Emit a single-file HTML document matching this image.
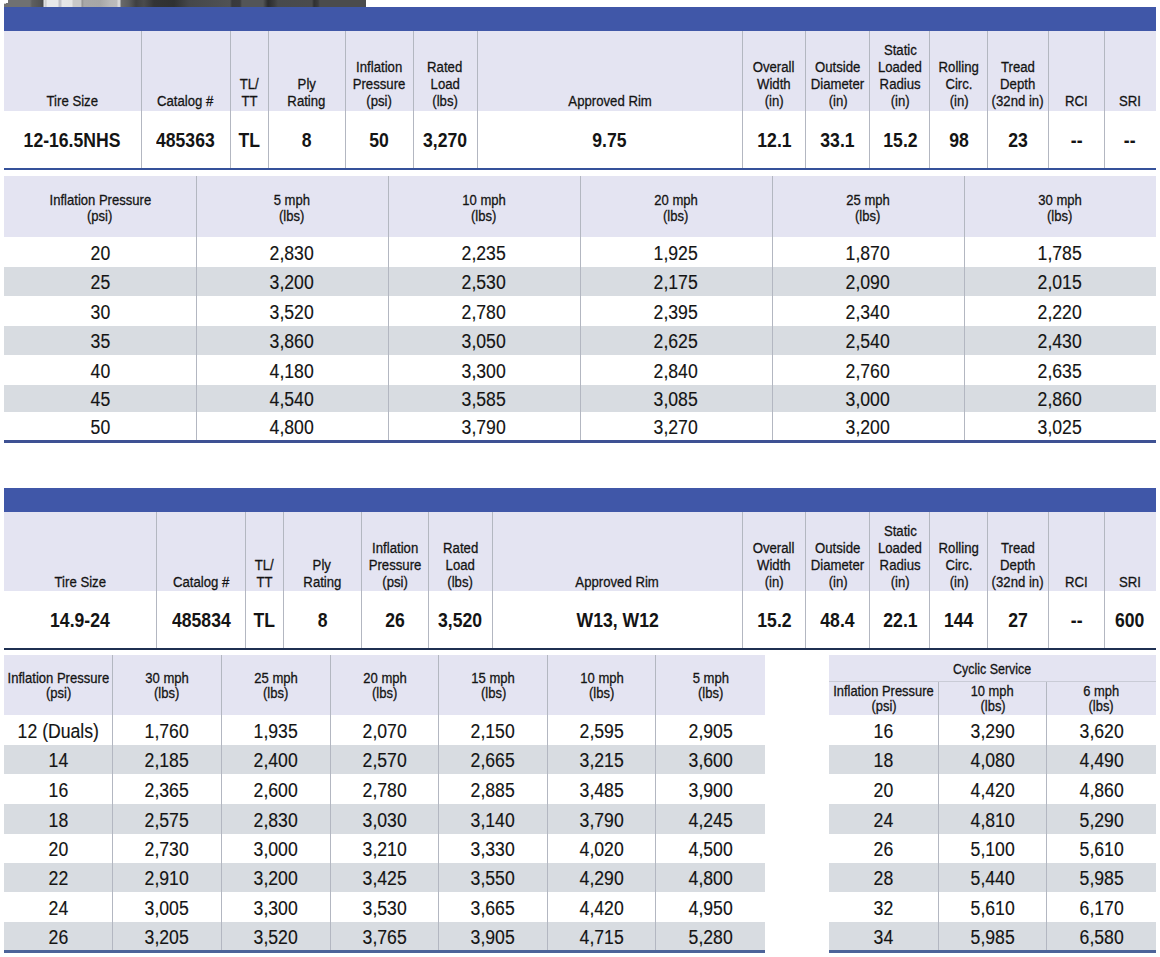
<!DOCTYPE html>
<html><head><meta charset="utf-8"><style>
html,body{margin:0;padding:0;background:#fff;}
body{width:1160px;height:957px;position:relative;overflow:hidden;font-family:"Liberation Sans",sans-serif;}
body>div{position:absolute;}
.t{text-align:center;white-space:nowrap;}
.t span{display:inline-block;}
</style></head><body>
<div style="left:4px;top:0;width:362px;height:7px;background:linear-gradient(90deg,#707172 0px,#707172 26px,#5e5f60 28px,#525354 36px,#48494a 39px,#e4e5e6 40px,#c8c8c8 42px,#e8e9ea 43px,#e8e9ea 54px,#c0c0c6 55px,#c4c4ca 57px,#e6e6e8 58px,#e4e4e4 68px,#c8c8c8 69px,#c8c8c8 77px,#909090 78px,#a8a8a8 80px,#a6a6a6 96px,#b8b8b8 106px,#bcbcbc 113px,#d8d8d8 114px,#d8d8d8 116px,#6a6a6a 117px,#5a5b5c 125px,#3f4041 132px,#4a4b4c 140px,#333435 150px,#2f3132 170px,#45474a 185px,#505254 226px,#38393b 228px,#3a3b3d 236px,#535557 238px,#535557 259px,#2a2b2d 264px,#3a3b3d 270px,#484a4c 274px,#4a4b4c 308px,#2f3031 310px,#3a3b3c 314px,#4b4c4d 316px,#4b4c4d 362px);"></div>
<div style="left:4px;top:0px;width:4px;height:3px;background:#ffffff;"></div>
<div style="left:4px;top:3px;width:2px;height:1px;background:#d0d0d0;"></div>
<div style="left:4px;top:7px;width:1152px;height:24px;background:#4057a8;"></div>
<div style="left:4px;top:31px;width:1152px;height:80px;background:#e4e4f2;"></div>
<div style="left:141px;top:31px;width:1px;height:137px;background:#b3b7c1;"></div>
<div style="left:230px;top:31px;width:1px;height:137px;background:#b3b7c1;"></div>
<div style="left:268px;top:31px;width:1px;height:137px;background:#b3b7c1;"></div>
<div style="left:345px;top:31px;width:1px;height:137px;background:#b3b7c1;"></div>
<div style="left:413px;top:31px;width:1px;height:137px;background:#b3b7c1;"></div>
<div style="left:477px;top:31px;width:1px;height:137px;background:#b3b7c1;"></div>
<div style="left:742px;top:31px;width:1px;height:137px;background:#b3b7c1;"></div>
<div style="left:805px;top:31px;width:1px;height:137px;background:#b3b7c1;"></div>
<div style="left:869px;top:31px;width:1px;height:137px;background:#b3b7c1;"></div>
<div style="left:929px;top:31px;width:1px;height:137px;background:#b3b7c1;"></div>
<div style="left:987px;top:31px;width:1px;height:137px;background:#b3b7c1;"></div>
<div style="left:1048px;top:31px;width:1px;height:137px;background:#b3b7c1;"></div>
<div style="left:1104px;top:31px;width:1px;height:137px;background:#b3b7c1;"></div>
<div style="left:4px;top:168px;width:1152px;height:2px;background:#35519a;"></div>
<div class="t" style="left:-56.00px;top:92.58px;width:257.00px;height:15.5px;line-height:15.5px;font-size:15.5px;color:#141414;"><span style="transform:scaleX(0.85);-webkit-text-stroke:0.3px #141414;">Tire Size</span></div>
<div class="t" style="left:81.00px;top:92.58px;width:209.00px;height:15.5px;line-height:15.5px;font-size:15.5px;color:#141414;"><span style="transform:scaleX(0.85);-webkit-text-stroke:0.3px #141414;">Catalog #</span></div>
<div class="t" style="left:170.00px;top:75.58px;width:158.00px;height:15.5px;line-height:15.5px;font-size:15.5px;color:#141414;"><span style="transform:scaleX(0.85);-webkit-text-stroke:0.3px #141414;">TL/</span></div>
<div class="t" style="left:170.00px;top:92.58px;width:158.00px;height:15.5px;line-height:15.5px;font-size:15.5px;color:#141414;"><span style="transform:scaleX(0.85);-webkit-text-stroke:0.3px #141414;">TT</span></div>
<div class="t" style="left:208.00px;top:75.58px;width:197.50px;height:15.5px;line-height:15.5px;font-size:15.5px;color:#141414;"><span style="transform:scaleX(0.85);-webkit-text-stroke:0.3px #141414;">Ply</span></div>
<div class="t" style="left:208.00px;top:92.58px;width:197.50px;height:15.5px;line-height:15.5px;font-size:15.5px;color:#141414;"><span style="transform:scaleX(0.85);-webkit-text-stroke:0.3px #141414;">Rating</span></div>
<div class="t" style="left:285.50px;top:58.58px;width:187.50px;height:15.5px;line-height:15.5px;font-size:15.5px;color:#141414;"><span style="transform:scaleX(0.85);-webkit-text-stroke:0.3px #141414;">Inflation</span></div>
<div class="t" style="left:285.50px;top:75.58px;width:187.50px;height:15.5px;line-height:15.5px;font-size:15.5px;color:#141414;"><span style="transform:scaleX(0.85);-webkit-text-stroke:0.3px #141414;">Pressure</span></div>
<div class="t" style="left:285.50px;top:92.58px;width:187.50px;height:15.5px;line-height:15.5px;font-size:15.5px;color:#141414;"><span style="transform:scaleX(0.85);-webkit-text-stroke:0.3px #141414;">(psi)</span></div>
<div class="t" style="left:353.00px;top:58.58px;width:184.00px;height:15.5px;line-height:15.5px;font-size:15.5px;color:#141414;"><span style="transform:scaleX(0.85);-webkit-text-stroke:0.3px #141414;">Rated</span></div>
<div class="t" style="left:353.00px;top:75.58px;width:184.00px;height:15.5px;line-height:15.5px;font-size:15.5px;color:#141414;"><span style="transform:scaleX(0.85);-webkit-text-stroke:0.3px #141414;">Load</span></div>
<div class="t" style="left:353.00px;top:92.58px;width:184.00px;height:15.5px;line-height:15.5px;font-size:15.5px;color:#141414;"><span style="transform:scaleX(0.85);-webkit-text-stroke:0.3px #141414;">(lbs)</span></div>
<div class="t" style="left:417.00px;top:92.58px;width:385.50px;height:15.5px;line-height:15.5px;font-size:15.5px;color:#141414;"><span style="transform:scaleX(0.85);-webkit-text-stroke:0.3px #141414;">Approved Rim</span></div>
<div class="t" style="left:682.50px;top:58.58px;width:183.00px;height:15.5px;line-height:15.5px;font-size:15.5px;color:#141414;"><span style="transform:scaleX(0.85);-webkit-text-stroke:0.3px #141414;">Overall</span></div>
<div class="t" style="left:682.50px;top:75.58px;width:183.00px;height:15.5px;line-height:15.5px;font-size:15.5px;color:#141414;"><span style="transform:scaleX(0.85);-webkit-text-stroke:0.3px #141414;">Width</span></div>
<div class="t" style="left:682.50px;top:92.58px;width:183.00px;height:15.5px;line-height:15.5px;font-size:15.5px;color:#141414;"><span style="transform:scaleX(0.85);-webkit-text-stroke:0.3px #141414;">(in)</span></div>
<div class="t" style="left:745.50px;top:58.58px;width:184.50px;height:15.5px;line-height:15.5px;font-size:15.5px;color:#141414;"><span style="transform:scaleX(0.85);-webkit-text-stroke:0.3px #141414;">Outside</span></div>
<div class="t" style="left:745.50px;top:75.58px;width:184.50px;height:15.5px;line-height:15.5px;font-size:15.5px;color:#141414;"><span style="transform:scaleX(0.85);-webkit-text-stroke:0.3px #141414;">Diameter</span></div>
<div class="t" style="left:745.50px;top:92.58px;width:184.50px;height:15.5px;line-height:15.5px;font-size:15.5px;color:#141414;"><span style="transform:scaleX(0.85);-webkit-text-stroke:0.3px #141414;">(in)</span></div>
<div class="t" style="left:810.00px;top:41.58px;width:180.00px;height:15.5px;line-height:15.5px;font-size:15.5px;color:#141414;"><span style="transform:scaleX(0.85);-webkit-text-stroke:0.3px #141414;">Static</span></div>
<div class="t" style="left:810.00px;top:58.58px;width:180.00px;height:15.5px;line-height:15.5px;font-size:15.5px;color:#141414;"><span style="transform:scaleX(0.85);-webkit-text-stroke:0.3px #141414;">Loaded</span></div>
<div class="t" style="left:810.00px;top:75.58px;width:180.00px;height:15.5px;line-height:15.5px;font-size:15.5px;color:#141414;"><span style="transform:scaleX(0.85);-webkit-text-stroke:0.3px #141414;">Radius</span></div>
<div class="t" style="left:810.00px;top:92.58px;width:180.00px;height:15.5px;line-height:15.5px;font-size:15.5px;color:#141414;"><span style="transform:scaleX(0.85);-webkit-text-stroke:0.3px #141414;">(in)</span></div>
<div class="t" style="left:870.00px;top:58.58px;width:177.50px;height:15.5px;line-height:15.5px;font-size:15.5px;color:#141414;"><span style="transform:scaleX(0.85);-webkit-text-stroke:0.3px #141414;">Rolling</span></div>
<div class="t" style="left:870.00px;top:75.58px;width:177.50px;height:15.5px;line-height:15.5px;font-size:15.5px;color:#141414;"><span style="transform:scaleX(0.85);-webkit-text-stroke:0.3px #141414;">Circ.</span></div>
<div class="t" style="left:870.00px;top:92.58px;width:177.50px;height:15.5px;line-height:15.5px;font-size:15.5px;color:#141414;"><span style="transform:scaleX(0.85);-webkit-text-stroke:0.3px #141414;">(in)</span></div>
<div class="t" style="left:927.50px;top:58.58px;width:181.00px;height:15.5px;line-height:15.5px;font-size:15.5px;color:#141414;"><span style="transform:scaleX(0.85);-webkit-text-stroke:0.3px #141414;">Tread</span></div>
<div class="t" style="left:927.50px;top:75.58px;width:181.00px;height:15.5px;line-height:15.5px;font-size:15.5px;color:#141414;"><span style="transform:scaleX(0.85);-webkit-text-stroke:0.3px #141414;">Depth</span></div>
<div class="t" style="left:927.50px;top:92.58px;width:181.00px;height:15.5px;line-height:15.5px;font-size:15.5px;color:#141414;"><span style="transform:scaleX(0.85);-webkit-text-stroke:0.3px #141414;">(32nd in)</span></div>
<div class="t" style="left:988.50px;top:92.58px;width:176.00px;height:15.5px;line-height:15.5px;font-size:15.5px;color:#141414;"><span style="transform:scaleX(0.85);-webkit-text-stroke:0.3px #141414;">RCI</span></div>
<div class="t" style="left:1044.50px;top:92.58px;width:171.00px;height:15.5px;line-height:15.5px;font-size:15.5px;color:#141414;"><span style="transform:scaleX(0.85);-webkit-text-stroke:0.3px #141414;">SRI</span></div>
<div class="t" style="left:-56.00px;top:129.67px;width:257.00px;height:20px;line-height:20px;font-size:20px;font-weight:700;color:#141414;"><span style="transform:scaleX(0.88);">12-16.5NHS</span></div>
<div class="t" style="left:81.00px;top:129.67px;width:209.00px;height:20px;line-height:20px;font-size:20px;font-weight:700;color:#141414;"><span style="transform:scaleX(0.88);">485363</span></div>
<div class="t" style="left:170.00px;top:129.67px;width:158.00px;height:20px;line-height:20px;font-size:20px;font-weight:700;color:#141414;"><span style="transform:scaleX(0.88);">TL</span></div>
<div class="t" style="left:208.00px;top:129.67px;width:197.50px;height:20px;line-height:20px;font-size:20px;font-weight:700;color:#141414;"><span style="transform:scaleX(0.88);">8</span></div>
<div class="t" style="left:285.50px;top:129.67px;width:187.50px;height:20px;line-height:20px;font-size:20px;font-weight:700;color:#141414;"><span style="transform:scaleX(0.88);">50</span></div>
<div class="t" style="left:353.00px;top:129.67px;width:184.00px;height:20px;line-height:20px;font-size:20px;font-weight:700;color:#141414;"><span style="transform:scaleX(0.88);">3,270</span></div>
<div class="t" style="left:417.00px;top:129.67px;width:385.50px;height:20px;line-height:20px;font-size:20px;font-weight:700;color:#141414;"><span style="transform:scaleX(0.88);">9.75</span></div>
<div class="t" style="left:682.50px;top:129.67px;width:183.00px;height:20px;line-height:20px;font-size:20px;font-weight:700;color:#141414;"><span style="transform:scaleX(0.88);">12.1</span></div>
<div class="t" style="left:745.50px;top:129.67px;width:184.50px;height:20px;line-height:20px;font-size:20px;font-weight:700;color:#141414;"><span style="transform:scaleX(0.88);">33.1</span></div>
<div class="t" style="left:810.00px;top:129.67px;width:180.00px;height:20px;line-height:20px;font-size:20px;font-weight:700;color:#141414;"><span style="transform:scaleX(0.88);">15.2</span></div>
<div class="t" style="left:870.00px;top:129.67px;width:177.50px;height:20px;line-height:20px;font-size:20px;font-weight:700;color:#141414;"><span style="transform:scaleX(0.88);">98</span></div>
<div class="t" style="left:927.50px;top:129.67px;width:181.00px;height:20px;line-height:20px;font-size:20px;font-weight:700;color:#141414;"><span style="transform:scaleX(0.88);">23</span></div>
<div class="t" style="left:988.50px;top:129.67px;width:176.00px;height:20px;line-height:20px;font-size:20px;font-weight:700;color:#141414;"><span style="transform:scaleX(0.88);">--</span></div>
<div class="t" style="left:1044.50px;top:129.67px;width:171.00px;height:20px;line-height:20px;font-size:20px;font-weight:700;color:#141414;"><span style="transform:scaleX(0.88);">--</span></div>
<div style="left:4px;top:488px;width:1152px;height:24px;background:#4057a8;"></div>
<div style="left:4px;top:512px;width:1152px;height:79px;background:#e4e4f2;"></div>
<div style="left:156px;top:512px;width:1px;height:136px;background:#b3b7c1;"></div>
<div style="left:245px;top:512px;width:1px;height:136px;background:#b3b7c1;"></div>
<div style="left:283px;top:512px;width:1px;height:136px;background:#b3b7c1;"></div>
<div style="left:361px;top:512px;width:1px;height:136px;background:#b3b7c1;"></div>
<div style="left:428px;top:512px;width:1px;height:136px;background:#b3b7c1;"></div>
<div style="left:492px;top:512px;width:1px;height:136px;background:#b3b7c1;"></div>
<div style="left:742px;top:512px;width:1px;height:136px;background:#b3b7c1;"></div>
<div style="left:805px;top:512px;width:1px;height:136px;background:#b3b7c1;"></div>
<div style="left:869px;top:512px;width:1px;height:136px;background:#b3b7c1;"></div>
<div style="left:929px;top:512px;width:1px;height:136px;background:#b3b7c1;"></div>
<div style="left:987px;top:512px;width:1px;height:136px;background:#b3b7c1;"></div>
<div style="left:1048px;top:512px;width:1px;height:136px;background:#b3b7c1;"></div>
<div style="left:1104px;top:512px;width:1px;height:136px;background:#b3b7c1;"></div>
<div style="left:4px;top:648px;width:1152px;height:2px;background:#1f3052;"></div>
<div class="t" style="left:-56.00px;top:574.28px;width:272.25px;height:15.5px;line-height:15.5px;font-size:15.5px;color:#141414;"><span style="transform:scaleX(0.85);-webkit-text-stroke:0.3px #141414;">Tire Size</span></div>
<div class="t" style="left:96.25px;top:574.28px;width:209.25px;height:15.5px;line-height:15.5px;font-size:15.5px;color:#141414;"><span style="transform:scaleX(0.85);-webkit-text-stroke:0.3px #141414;">Catalog #</span></div>
<div class="t" style="left:185.50px;top:557.28px;width:157.75px;height:15.5px;line-height:15.5px;font-size:15.5px;color:#141414;"><span style="transform:scaleX(0.85);-webkit-text-stroke:0.3px #141414;">TL/</span></div>
<div class="t" style="left:185.50px;top:574.28px;width:157.75px;height:15.5px;line-height:15.5px;font-size:15.5px;color:#141414;"><span style="transform:scaleX(0.85);-webkit-text-stroke:0.3px #141414;">TT</span></div>
<div class="t" style="left:223.25px;top:557.28px;width:198.00px;height:15.5px;line-height:15.5px;font-size:15.5px;color:#141414;"><span style="transform:scaleX(0.85);-webkit-text-stroke:0.3px #141414;">Ply</span></div>
<div class="t" style="left:223.25px;top:574.28px;width:198.00px;height:15.5px;line-height:15.5px;font-size:15.5px;color:#141414;"><span style="transform:scaleX(0.85);-webkit-text-stroke:0.3px #141414;">Rating</span></div>
<div class="t" style="left:301.25px;top:540.28px;width:187.00px;height:15.5px;line-height:15.5px;font-size:15.5px;color:#141414;"><span style="transform:scaleX(0.85);-webkit-text-stroke:0.3px #141414;">Inflation</span></div>
<div class="t" style="left:301.25px;top:557.28px;width:187.00px;height:15.5px;line-height:15.5px;font-size:15.5px;color:#141414;"><span style="transform:scaleX(0.85);-webkit-text-stroke:0.3px #141414;">Pressure</span></div>
<div class="t" style="left:301.25px;top:574.28px;width:187.00px;height:15.5px;line-height:15.5px;font-size:15.5px;color:#141414;"><span style="transform:scaleX(0.85);-webkit-text-stroke:0.3px #141414;">(psi)</span></div>
<div class="t" style="left:368.25px;top:540.28px;width:184.25px;height:15.5px;line-height:15.5px;font-size:15.5px;color:#141414;"><span style="transform:scaleX(0.85);-webkit-text-stroke:0.3px #141414;">Rated</span></div>
<div class="t" style="left:368.25px;top:557.28px;width:184.25px;height:15.5px;line-height:15.5px;font-size:15.5px;color:#141414;"><span style="transform:scaleX(0.85);-webkit-text-stroke:0.3px #141414;">Load</span></div>
<div class="t" style="left:368.25px;top:574.28px;width:184.25px;height:15.5px;line-height:15.5px;font-size:15.5px;color:#141414;"><span style="transform:scaleX(0.85);-webkit-text-stroke:0.3px #141414;">(lbs)</span></div>
<div class="t" style="left:432.50px;top:574.28px;width:370.00px;height:15.5px;line-height:15.5px;font-size:15.5px;color:#141414;"><span style="transform:scaleX(0.85);-webkit-text-stroke:0.3px #141414;">Approved Rim</span></div>
<div class="t" style="left:682.50px;top:540.28px;width:183.00px;height:15.5px;line-height:15.5px;font-size:15.5px;color:#141414;"><span style="transform:scaleX(0.85);-webkit-text-stroke:0.3px #141414;">Overall</span></div>
<div class="t" style="left:682.50px;top:557.28px;width:183.00px;height:15.5px;line-height:15.5px;font-size:15.5px;color:#141414;"><span style="transform:scaleX(0.85);-webkit-text-stroke:0.3px #141414;">Width</span></div>
<div class="t" style="left:682.50px;top:574.28px;width:183.00px;height:15.5px;line-height:15.5px;font-size:15.5px;color:#141414;"><span style="transform:scaleX(0.85);-webkit-text-stroke:0.3px #141414;">(in)</span></div>
<div class="t" style="left:745.50px;top:540.28px;width:184.50px;height:15.5px;line-height:15.5px;font-size:15.5px;color:#141414;"><span style="transform:scaleX(0.85);-webkit-text-stroke:0.3px #141414;">Outside</span></div>
<div class="t" style="left:745.50px;top:557.28px;width:184.50px;height:15.5px;line-height:15.5px;font-size:15.5px;color:#141414;"><span style="transform:scaleX(0.85);-webkit-text-stroke:0.3px #141414;">Diameter</span></div>
<div class="t" style="left:745.50px;top:574.28px;width:184.50px;height:15.5px;line-height:15.5px;font-size:15.5px;color:#141414;"><span style="transform:scaleX(0.85);-webkit-text-stroke:0.3px #141414;">(in)</span></div>
<div class="t" style="left:810.00px;top:523.28px;width:180.00px;height:15.5px;line-height:15.5px;font-size:15.5px;color:#141414;"><span style="transform:scaleX(0.85);-webkit-text-stroke:0.3px #141414;">Static</span></div>
<div class="t" style="left:810.00px;top:540.28px;width:180.00px;height:15.5px;line-height:15.5px;font-size:15.5px;color:#141414;"><span style="transform:scaleX(0.85);-webkit-text-stroke:0.3px #141414;">Loaded</span></div>
<div class="t" style="left:810.00px;top:557.28px;width:180.00px;height:15.5px;line-height:15.5px;font-size:15.5px;color:#141414;"><span style="transform:scaleX(0.85);-webkit-text-stroke:0.3px #141414;">Radius</span></div>
<div class="t" style="left:810.00px;top:574.28px;width:180.00px;height:15.5px;line-height:15.5px;font-size:15.5px;color:#141414;"><span style="transform:scaleX(0.85);-webkit-text-stroke:0.3px #141414;">(in)</span></div>
<div class="t" style="left:870.00px;top:540.28px;width:177.50px;height:15.5px;line-height:15.5px;font-size:15.5px;color:#141414;"><span style="transform:scaleX(0.85);-webkit-text-stroke:0.3px #141414;">Rolling</span></div>
<div class="t" style="left:870.00px;top:557.28px;width:177.50px;height:15.5px;line-height:15.5px;font-size:15.5px;color:#141414;"><span style="transform:scaleX(0.85);-webkit-text-stroke:0.3px #141414;">Circ.</span></div>
<div class="t" style="left:870.00px;top:574.28px;width:177.50px;height:15.5px;line-height:15.5px;font-size:15.5px;color:#141414;"><span style="transform:scaleX(0.85);-webkit-text-stroke:0.3px #141414;">(in)</span></div>
<div class="t" style="left:927.50px;top:540.28px;width:181.00px;height:15.5px;line-height:15.5px;font-size:15.5px;color:#141414;"><span style="transform:scaleX(0.85);-webkit-text-stroke:0.3px #141414;">Tread</span></div>
<div class="t" style="left:927.50px;top:557.28px;width:181.00px;height:15.5px;line-height:15.5px;font-size:15.5px;color:#141414;"><span style="transform:scaleX(0.85);-webkit-text-stroke:0.3px #141414;">Depth</span></div>
<div class="t" style="left:927.50px;top:574.28px;width:181.00px;height:15.5px;line-height:15.5px;font-size:15.5px;color:#141414;"><span style="transform:scaleX(0.85);-webkit-text-stroke:0.3px #141414;">(32nd in)</span></div>
<div class="t" style="left:988.50px;top:574.28px;width:176.00px;height:15.5px;line-height:15.5px;font-size:15.5px;color:#141414;"><span style="transform:scaleX(0.85);-webkit-text-stroke:0.3px #141414;">RCI</span></div>
<div class="t" style="left:1044.50px;top:574.28px;width:171.00px;height:15.5px;line-height:15.5px;font-size:15.5px;color:#141414;"><span style="transform:scaleX(0.85);-webkit-text-stroke:0.3px #141414;">SRI</span></div>
<div class="t" style="left:-56.00px;top:610.27px;width:272.25px;height:20px;line-height:20px;font-size:20px;font-weight:700;color:#141414;"><span style="transform:scaleX(0.88);">14.9-24</span></div>
<div class="t" style="left:96.25px;top:610.27px;width:209.25px;height:20px;line-height:20px;font-size:20px;font-weight:700;color:#141414;"><span style="transform:scaleX(0.88);">485834</span></div>
<div class="t" style="left:185.50px;top:610.27px;width:157.75px;height:20px;line-height:20px;font-size:20px;font-weight:700;color:#141414;"><span style="transform:scaleX(0.88);">TL</span></div>
<div class="t" style="left:223.25px;top:610.27px;width:198.00px;height:20px;line-height:20px;font-size:20px;font-weight:700;color:#141414;"><span style="transform:scaleX(0.88);">8</span></div>
<div class="t" style="left:301.25px;top:610.27px;width:187.00px;height:20px;line-height:20px;font-size:20px;font-weight:700;color:#141414;"><span style="transform:scaleX(0.88);">26</span></div>
<div class="t" style="left:368.25px;top:610.27px;width:184.25px;height:20px;line-height:20px;font-size:20px;font-weight:700;color:#141414;"><span style="transform:scaleX(0.88);">3,520</span></div>
<div class="t" style="left:432.50px;top:610.27px;width:370.00px;height:20px;line-height:20px;font-size:20px;font-weight:700;color:#141414;"><span style="transform:scaleX(0.88);">W13, W12</span></div>
<div class="t" style="left:682.50px;top:610.27px;width:183.00px;height:20px;line-height:20px;font-size:20px;font-weight:700;color:#141414;"><span style="transform:scaleX(0.88);">15.2</span></div>
<div class="t" style="left:745.50px;top:610.27px;width:184.50px;height:20px;line-height:20px;font-size:20px;font-weight:700;color:#141414;"><span style="transform:scaleX(0.88);">48.4</span></div>
<div class="t" style="left:810.00px;top:610.27px;width:180.00px;height:20px;line-height:20px;font-size:20px;font-weight:700;color:#141414;"><span style="transform:scaleX(0.88);">22.1</span></div>
<div class="t" style="left:870.00px;top:610.27px;width:177.50px;height:20px;line-height:20px;font-size:20px;font-weight:700;color:#141414;"><span style="transform:scaleX(0.88);">144</span></div>
<div class="t" style="left:927.50px;top:610.27px;width:181.00px;height:20px;line-height:20px;font-size:20px;font-weight:700;color:#141414;"><span style="transform:scaleX(0.88);">27</span></div>
<div class="t" style="left:988.50px;top:610.27px;width:176.00px;height:20px;line-height:20px;font-size:20px;font-weight:700;color:#141414;"><span style="transform:scaleX(0.88);">--</span></div>
<div class="t" style="left:1044.50px;top:610.27px;width:171.00px;height:20px;line-height:20px;font-size:20px;font-weight:700;color:#141414;"><span style="transform:scaleX(0.88);">600</span></div>
<div style="left:4px;top:176px;width:1152px;height:61px;background:#e4e4f2;"></div>
<div style="left:4px;top:267px;width:1152px;height:29px;background:#d8dce1;"></div>
<div style="left:4px;top:326px;width:1152px;height:29px;background:#d8dce1;"></div>
<div style="left:4px;top:385px;width:1152px;height:27px;background:#d8dce1;"></div>
<div style="left:196px;top:176px;width:1px;height:264px;background:#b3b7c1;"></div>
<div style="left:388px;top:176px;width:1px;height:264px;background:#b3b7c1;"></div>
<div style="left:580px;top:176px;width:1px;height:264px;background:#b3b7c1;"></div>
<div style="left:772px;top:176px;width:1px;height:264px;background:#b3b7c1;"></div>
<div style="left:964px;top:176px;width:1px;height:264px;background:#b3b7c1;"></div>
<div style="left:4px;top:440px;width:1152px;height:3px;background:#3e5193;"></div>
<div class="t" style="left:-56.00px;top:192.00px;width:312.00px;height:15px;line-height:15px;font-size:15px;color:#141414;"><span style="transform:scaleX(0.87);-webkit-text-stroke:0.3px #141414;">Inflation Pressure</span></div>
<div class="t" style="left:-56.00px;top:207.60px;width:312.00px;height:15px;line-height:15px;font-size:15px;color:#141414;"><span style="transform:scaleX(0.87);-webkit-text-stroke:0.3px #141414;">(psi)</span></div>
<div class="t" style="left:136.00px;top:192.00px;width:312.00px;height:15px;line-height:15px;font-size:15px;color:#141414;"><span style="transform:scaleX(0.87);-webkit-text-stroke:0.3px #141414;">5 mph</span></div>
<div class="t" style="left:136.00px;top:207.60px;width:312.00px;height:15px;line-height:15px;font-size:15px;color:#141414;"><span style="transform:scaleX(0.87);-webkit-text-stroke:0.3px #141414;">(lbs)</span></div>
<div class="t" style="left:328.00px;top:192.00px;width:312.00px;height:15px;line-height:15px;font-size:15px;color:#141414;"><span style="transform:scaleX(0.87);-webkit-text-stroke:0.3px #141414;">10 mph</span></div>
<div class="t" style="left:328.00px;top:207.60px;width:312.00px;height:15px;line-height:15px;font-size:15px;color:#141414;"><span style="transform:scaleX(0.87);-webkit-text-stroke:0.3px #141414;">(lbs)</span></div>
<div class="t" style="left:520.00px;top:192.00px;width:312.00px;height:15px;line-height:15px;font-size:15px;color:#141414;"><span style="transform:scaleX(0.87);-webkit-text-stroke:0.3px #141414;">20 mph</span></div>
<div class="t" style="left:520.00px;top:207.60px;width:312.00px;height:15px;line-height:15px;font-size:15px;color:#141414;"><span style="transform:scaleX(0.87);-webkit-text-stroke:0.3px #141414;">(lbs)</span></div>
<div class="t" style="left:712.00px;top:192.00px;width:312.00px;height:15px;line-height:15px;font-size:15px;color:#141414;"><span style="transform:scaleX(0.87);-webkit-text-stroke:0.3px #141414;">25 mph</span></div>
<div class="t" style="left:712.00px;top:207.60px;width:312.00px;height:15px;line-height:15px;font-size:15px;color:#141414;"><span style="transform:scaleX(0.87);-webkit-text-stroke:0.3px #141414;">(lbs)</span></div>
<div class="t" style="left:904.00px;top:192.00px;width:312.00px;height:15px;line-height:15px;font-size:15px;color:#141414;"><span style="transform:scaleX(0.87);-webkit-text-stroke:0.3px #141414;">30 mph</span></div>
<div class="t" style="left:904.00px;top:207.60px;width:312.00px;height:15px;line-height:15px;font-size:15px;color:#141414;"><span style="transform:scaleX(0.87);-webkit-text-stroke:0.3px #141414;">(lbs)</span></div>
<div class="t" style="left:-56.00px;top:242.95px;width:312.00px;height:20.5px;line-height:20.5px;font-size:20.5px;color:#141414;"><span style="transform:scaleX(0.86);-webkit-text-stroke:0.15px #141414;">20</span></div>
<div class="t" style="left:136.00px;top:242.95px;width:312.00px;height:20.5px;line-height:20.5px;font-size:20.5px;color:#141414;"><span style="transform:scaleX(0.86);-webkit-text-stroke:0.15px #141414;">2,830</span></div>
<div class="t" style="left:328.00px;top:242.95px;width:312.00px;height:20.5px;line-height:20.5px;font-size:20.5px;color:#141414;"><span style="transform:scaleX(0.86);-webkit-text-stroke:0.15px #141414;">2,235</span></div>
<div class="t" style="left:520.00px;top:242.95px;width:312.00px;height:20.5px;line-height:20.5px;font-size:20.5px;color:#141414;"><span style="transform:scaleX(0.86);-webkit-text-stroke:0.15px #141414;">1,925</span></div>
<div class="t" style="left:712.00px;top:242.95px;width:312.00px;height:20.5px;line-height:20.5px;font-size:20.5px;color:#141414;"><span style="transform:scaleX(0.86);-webkit-text-stroke:0.15px #141414;">1,870</span></div>
<div class="t" style="left:904.00px;top:242.95px;width:312.00px;height:20.5px;line-height:20.5px;font-size:20.5px;color:#141414;"><span style="transform:scaleX(0.86);-webkit-text-stroke:0.15px #141414;">1,785</span></div>
<div class="t" style="left:-56.00px;top:272.45px;width:312.00px;height:20.5px;line-height:20.5px;font-size:20.5px;color:#141414;"><span style="transform:scaleX(0.86);-webkit-text-stroke:0.15px #141414;">25</span></div>
<div class="t" style="left:136.00px;top:272.45px;width:312.00px;height:20.5px;line-height:20.5px;font-size:20.5px;color:#141414;"><span style="transform:scaleX(0.86);-webkit-text-stroke:0.15px #141414;">3,200</span></div>
<div class="t" style="left:328.00px;top:272.45px;width:312.00px;height:20.5px;line-height:20.5px;font-size:20.5px;color:#141414;"><span style="transform:scaleX(0.86);-webkit-text-stroke:0.15px #141414;">2,530</span></div>
<div class="t" style="left:520.00px;top:272.45px;width:312.00px;height:20.5px;line-height:20.5px;font-size:20.5px;color:#141414;"><span style="transform:scaleX(0.86);-webkit-text-stroke:0.15px #141414;">2,175</span></div>
<div class="t" style="left:712.00px;top:272.45px;width:312.00px;height:20.5px;line-height:20.5px;font-size:20.5px;color:#141414;"><span style="transform:scaleX(0.86);-webkit-text-stroke:0.15px #141414;">2,090</span></div>
<div class="t" style="left:904.00px;top:272.45px;width:312.00px;height:20.5px;line-height:20.5px;font-size:20.5px;color:#141414;"><span style="transform:scaleX(0.86);-webkit-text-stroke:0.15px #141414;">2,015</span></div>
<div class="t" style="left:-56.00px;top:301.95px;width:312.00px;height:20.5px;line-height:20.5px;font-size:20.5px;color:#141414;"><span style="transform:scaleX(0.86);-webkit-text-stroke:0.15px #141414;">30</span></div>
<div class="t" style="left:136.00px;top:301.95px;width:312.00px;height:20.5px;line-height:20.5px;font-size:20.5px;color:#141414;"><span style="transform:scaleX(0.86);-webkit-text-stroke:0.15px #141414;">3,520</span></div>
<div class="t" style="left:328.00px;top:301.95px;width:312.00px;height:20.5px;line-height:20.5px;font-size:20.5px;color:#141414;"><span style="transform:scaleX(0.86);-webkit-text-stroke:0.15px #141414;">2,780</span></div>
<div class="t" style="left:520.00px;top:301.95px;width:312.00px;height:20.5px;line-height:20.5px;font-size:20.5px;color:#141414;"><span style="transform:scaleX(0.86);-webkit-text-stroke:0.15px #141414;">2,395</span></div>
<div class="t" style="left:712.00px;top:301.95px;width:312.00px;height:20.5px;line-height:20.5px;font-size:20.5px;color:#141414;"><span style="transform:scaleX(0.86);-webkit-text-stroke:0.15px #141414;">2,340</span></div>
<div class="t" style="left:904.00px;top:301.95px;width:312.00px;height:20.5px;line-height:20.5px;font-size:20.5px;color:#141414;"><span style="transform:scaleX(0.86);-webkit-text-stroke:0.15px #141414;">2,220</span></div>
<div class="t" style="left:-56.00px;top:331.45px;width:312.00px;height:20.5px;line-height:20.5px;font-size:20.5px;color:#141414;"><span style="transform:scaleX(0.86);-webkit-text-stroke:0.15px #141414;">35</span></div>
<div class="t" style="left:136.00px;top:331.45px;width:312.00px;height:20.5px;line-height:20.5px;font-size:20.5px;color:#141414;"><span style="transform:scaleX(0.86);-webkit-text-stroke:0.15px #141414;">3,860</span></div>
<div class="t" style="left:328.00px;top:331.45px;width:312.00px;height:20.5px;line-height:20.5px;font-size:20.5px;color:#141414;"><span style="transform:scaleX(0.86);-webkit-text-stroke:0.15px #141414;">3,050</span></div>
<div class="t" style="left:520.00px;top:331.45px;width:312.00px;height:20.5px;line-height:20.5px;font-size:20.5px;color:#141414;"><span style="transform:scaleX(0.86);-webkit-text-stroke:0.15px #141414;">2,625</span></div>
<div class="t" style="left:712.00px;top:331.45px;width:312.00px;height:20.5px;line-height:20.5px;font-size:20.5px;color:#141414;"><span style="transform:scaleX(0.86);-webkit-text-stroke:0.15px #141414;">2,540</span></div>
<div class="t" style="left:904.00px;top:331.45px;width:312.00px;height:20.5px;line-height:20.5px;font-size:20.5px;color:#141414;"><span style="transform:scaleX(0.86);-webkit-text-stroke:0.15px #141414;">2,430</span></div>
<div class="t" style="left:-56.00px;top:360.95px;width:312.00px;height:20.5px;line-height:20.5px;font-size:20.5px;color:#141414;"><span style="transform:scaleX(0.86);-webkit-text-stroke:0.15px #141414;">40</span></div>
<div class="t" style="left:136.00px;top:360.95px;width:312.00px;height:20.5px;line-height:20.5px;font-size:20.5px;color:#141414;"><span style="transform:scaleX(0.86);-webkit-text-stroke:0.15px #141414;">4,180</span></div>
<div class="t" style="left:328.00px;top:360.95px;width:312.00px;height:20.5px;line-height:20.5px;font-size:20.5px;color:#141414;"><span style="transform:scaleX(0.86);-webkit-text-stroke:0.15px #141414;">3,300</span></div>
<div class="t" style="left:520.00px;top:360.95px;width:312.00px;height:20.5px;line-height:20.5px;font-size:20.5px;color:#141414;"><span style="transform:scaleX(0.86);-webkit-text-stroke:0.15px #141414;">2,840</span></div>
<div class="t" style="left:712.00px;top:360.95px;width:312.00px;height:20.5px;line-height:20.5px;font-size:20.5px;color:#141414;"><span style="transform:scaleX(0.86);-webkit-text-stroke:0.15px #141414;">2,760</span></div>
<div class="t" style="left:904.00px;top:360.95px;width:312.00px;height:20.5px;line-height:20.5px;font-size:20.5px;color:#141414;"><span style="transform:scaleX(0.86);-webkit-text-stroke:0.15px #141414;">2,635</span></div>
<div class="t" style="left:-56.00px;top:389.45px;width:312.00px;height:20.5px;line-height:20.5px;font-size:20.5px;color:#141414;"><span style="transform:scaleX(0.86);-webkit-text-stroke:0.15px #141414;">45</span></div>
<div class="t" style="left:136.00px;top:389.45px;width:312.00px;height:20.5px;line-height:20.5px;font-size:20.5px;color:#141414;"><span style="transform:scaleX(0.86);-webkit-text-stroke:0.15px #141414;">4,540</span></div>
<div class="t" style="left:328.00px;top:389.45px;width:312.00px;height:20.5px;line-height:20.5px;font-size:20.5px;color:#141414;"><span style="transform:scaleX(0.86);-webkit-text-stroke:0.15px #141414;">3,585</span></div>
<div class="t" style="left:520.00px;top:389.45px;width:312.00px;height:20.5px;line-height:20.5px;font-size:20.5px;color:#141414;"><span style="transform:scaleX(0.86);-webkit-text-stroke:0.15px #141414;">3,085</span></div>
<div class="t" style="left:712.00px;top:389.45px;width:312.00px;height:20.5px;line-height:20.5px;font-size:20.5px;color:#141414;"><span style="transform:scaleX(0.86);-webkit-text-stroke:0.15px #141414;">3,000</span></div>
<div class="t" style="left:904.00px;top:389.45px;width:312.00px;height:20.5px;line-height:20.5px;font-size:20.5px;color:#141414;"><span style="transform:scaleX(0.86);-webkit-text-stroke:0.15px #141414;">2,860</span></div>
<div class="t" style="left:-56.00px;top:416.95px;width:312.00px;height:20.5px;line-height:20.5px;font-size:20.5px;color:#141414;"><span style="transform:scaleX(0.86);-webkit-text-stroke:0.15px #141414;">50</span></div>
<div class="t" style="left:136.00px;top:416.95px;width:312.00px;height:20.5px;line-height:20.5px;font-size:20.5px;color:#141414;"><span style="transform:scaleX(0.86);-webkit-text-stroke:0.15px #141414;">4,800</span></div>
<div class="t" style="left:328.00px;top:416.95px;width:312.00px;height:20.5px;line-height:20.5px;font-size:20.5px;color:#141414;"><span style="transform:scaleX(0.86);-webkit-text-stroke:0.15px #141414;">3,790</span></div>
<div class="t" style="left:520.00px;top:416.95px;width:312.00px;height:20.5px;line-height:20.5px;font-size:20.5px;color:#141414;"><span style="transform:scaleX(0.86);-webkit-text-stroke:0.15px #141414;">3,270</span></div>
<div class="t" style="left:712.00px;top:416.95px;width:312.00px;height:20.5px;line-height:20.5px;font-size:20.5px;color:#141414;"><span style="transform:scaleX(0.86);-webkit-text-stroke:0.15px #141414;">3,200</span></div>
<div class="t" style="left:904.00px;top:416.95px;width:312.00px;height:20.5px;line-height:20.5px;font-size:20.5px;color:#141414;"><span style="transform:scaleX(0.86);-webkit-text-stroke:0.15px #141414;">3,025</span></div>
<div style="left:4px;top:655px;width:761px;height:60px;background:#e4e4f2;"></div>
<div style="left:4px;top:745px;width:761px;height:29px;background:#d8dce1;"></div>
<div style="left:4px;top:804px;width:761px;height:30px;background:#d8dce1;"></div>
<div style="left:4px;top:863px;width:761px;height:29px;background:#d8dce1;"></div>
<div style="left:4px;top:922px;width:761px;height:28px;background:#d8dce1;"></div>
<div style="left:112px;top:655px;width:1px;height:295px;background:#b3b7c1;"></div>
<div style="left:221px;top:655px;width:1px;height:295px;background:#b3b7c1;"></div>
<div style="left:330px;top:655px;width:1px;height:295px;background:#b3b7c1;"></div>
<div style="left:438px;top:655px;width:1px;height:295px;background:#b3b7c1;"></div>
<div style="left:547px;top:655px;width:1px;height:295px;background:#b3b7c1;"></div>
<div style="left:655px;top:655px;width:1px;height:295px;background:#b3b7c1;"></div>
<div style="left:4px;top:950px;width:761px;height:3px;background:#4d6399;"></div>
<div class="t" style="left:-56.00px;top:670.10px;width:228.50px;height:15px;line-height:15px;font-size:15px;color:#141414;"><span style="transform:scaleX(0.87);-webkit-text-stroke:0.3px #141414;">Inflation Pressure</span></div>
<div class="t" style="left:-56.00px;top:685.00px;width:228.50px;height:15px;line-height:15px;font-size:15px;color:#141414;"><span style="transform:scaleX(0.87);-webkit-text-stroke:0.3px #141414;">(psi)</span></div>
<div class="t" style="left:52.50px;top:670.10px;width:228.75px;height:15px;line-height:15px;font-size:15px;color:#141414;"><span style="transform:scaleX(0.87);-webkit-text-stroke:0.3px #141414;">30 mph</span></div>
<div class="t" style="left:52.50px;top:685.00px;width:228.75px;height:15px;line-height:15px;font-size:15px;color:#141414;"><span style="transform:scaleX(0.87);-webkit-text-stroke:0.3px #141414;">(lbs)</span></div>
<div class="t" style="left:161.25px;top:670.10px;width:229.25px;height:15px;line-height:15px;font-size:15px;color:#141414;"><span style="transform:scaleX(0.87);-webkit-text-stroke:0.3px #141414;">25 mph</span></div>
<div class="t" style="left:161.25px;top:685.00px;width:229.25px;height:15px;line-height:15px;font-size:15px;color:#141414;"><span style="transform:scaleX(0.87);-webkit-text-stroke:0.3px #141414;">(lbs)</span></div>
<div class="t" style="left:270.50px;top:670.10px;width:228.25px;height:15px;line-height:15px;font-size:15px;color:#141414;"><span style="transform:scaleX(0.87);-webkit-text-stroke:0.3px #141414;">20 mph</span></div>
<div class="t" style="left:270.50px;top:685.00px;width:228.25px;height:15px;line-height:15px;font-size:15px;color:#141414;"><span style="transform:scaleX(0.87);-webkit-text-stroke:0.3px #141414;">(lbs)</span></div>
<div class="t" style="left:378.75px;top:670.10px;width:228.75px;height:15px;line-height:15px;font-size:15px;color:#141414;"><span style="transform:scaleX(0.87);-webkit-text-stroke:0.3px #141414;">15 mph</span></div>
<div class="t" style="left:378.75px;top:685.00px;width:228.75px;height:15px;line-height:15px;font-size:15px;color:#141414;"><span style="transform:scaleX(0.87);-webkit-text-stroke:0.3px #141414;">(lbs)</span></div>
<div class="t" style="left:487.50px;top:670.10px;width:228.25px;height:15px;line-height:15px;font-size:15px;color:#141414;"><span style="transform:scaleX(0.87);-webkit-text-stroke:0.3px #141414;">10 mph</span></div>
<div class="t" style="left:487.50px;top:685.00px;width:228.25px;height:15px;line-height:15px;font-size:15px;color:#141414;"><span style="transform:scaleX(0.87);-webkit-text-stroke:0.3px #141414;">(lbs)</span></div>
<div class="t" style="left:595.75px;top:670.10px;width:229.25px;height:15px;line-height:15px;font-size:15px;color:#141414;"><span style="transform:scaleX(0.87);-webkit-text-stroke:0.3px #141414;">5 mph</span></div>
<div class="t" style="left:595.75px;top:685.00px;width:229.25px;height:15px;line-height:15px;font-size:15px;color:#141414;"><span style="transform:scaleX(0.87);-webkit-text-stroke:0.3px #141414;">(lbs)</span></div>
<div class="t" style="left:-56.00px;top:720.95px;width:228.50px;height:20.5px;line-height:20.5px;font-size:20.5px;color:#141414;"><span style="transform:scaleX(0.86);-webkit-text-stroke:0.15px #141414;">12 (Duals)</span></div>
<div class="t" style="left:52.50px;top:720.95px;width:228.75px;height:20.5px;line-height:20.5px;font-size:20.5px;color:#141414;"><span style="transform:scaleX(0.86);-webkit-text-stroke:0.15px #141414;">1,760</span></div>
<div class="t" style="left:161.25px;top:720.95px;width:229.25px;height:20.5px;line-height:20.5px;font-size:20.5px;color:#141414;"><span style="transform:scaleX(0.86);-webkit-text-stroke:0.15px #141414;">1,935</span></div>
<div class="t" style="left:270.50px;top:720.95px;width:228.25px;height:20.5px;line-height:20.5px;font-size:20.5px;color:#141414;"><span style="transform:scaleX(0.86);-webkit-text-stroke:0.15px #141414;">2,070</span></div>
<div class="t" style="left:378.75px;top:720.95px;width:228.75px;height:20.5px;line-height:20.5px;font-size:20.5px;color:#141414;"><span style="transform:scaleX(0.86);-webkit-text-stroke:0.15px #141414;">2,150</span></div>
<div class="t" style="left:487.50px;top:720.95px;width:228.25px;height:20.5px;line-height:20.5px;font-size:20.5px;color:#141414;"><span style="transform:scaleX(0.86);-webkit-text-stroke:0.15px #141414;">2,595</span></div>
<div class="t" style="left:595.75px;top:720.95px;width:229.25px;height:20.5px;line-height:20.5px;font-size:20.5px;color:#141414;"><span style="transform:scaleX(0.86);-webkit-text-stroke:0.15px #141414;">2,905</span></div>
<div class="t" style="left:-56.00px;top:750.45px;width:228.50px;height:20.5px;line-height:20.5px;font-size:20.5px;color:#141414;"><span style="transform:scaleX(0.86);-webkit-text-stroke:0.15px #141414;">14</span></div>
<div class="t" style="left:52.50px;top:750.45px;width:228.75px;height:20.5px;line-height:20.5px;font-size:20.5px;color:#141414;"><span style="transform:scaleX(0.86);-webkit-text-stroke:0.15px #141414;">2,185</span></div>
<div class="t" style="left:161.25px;top:750.45px;width:229.25px;height:20.5px;line-height:20.5px;font-size:20.5px;color:#141414;"><span style="transform:scaleX(0.86);-webkit-text-stroke:0.15px #141414;">2,400</span></div>
<div class="t" style="left:270.50px;top:750.45px;width:228.25px;height:20.5px;line-height:20.5px;font-size:20.5px;color:#141414;"><span style="transform:scaleX(0.86);-webkit-text-stroke:0.15px #141414;">2,570</span></div>
<div class="t" style="left:378.75px;top:750.45px;width:228.75px;height:20.5px;line-height:20.5px;font-size:20.5px;color:#141414;"><span style="transform:scaleX(0.86);-webkit-text-stroke:0.15px #141414;">2,665</span></div>
<div class="t" style="left:487.50px;top:750.45px;width:228.25px;height:20.5px;line-height:20.5px;font-size:20.5px;color:#141414;"><span style="transform:scaleX(0.86);-webkit-text-stroke:0.15px #141414;">3,215</span></div>
<div class="t" style="left:595.75px;top:750.45px;width:229.25px;height:20.5px;line-height:20.5px;font-size:20.5px;color:#141414;"><span style="transform:scaleX(0.86);-webkit-text-stroke:0.15px #141414;">3,600</span></div>
<div class="t" style="left:-56.00px;top:779.95px;width:228.50px;height:20.5px;line-height:20.5px;font-size:20.5px;color:#141414;"><span style="transform:scaleX(0.86);-webkit-text-stroke:0.15px #141414;">16</span></div>
<div class="t" style="left:52.50px;top:779.95px;width:228.75px;height:20.5px;line-height:20.5px;font-size:20.5px;color:#141414;"><span style="transform:scaleX(0.86);-webkit-text-stroke:0.15px #141414;">2,365</span></div>
<div class="t" style="left:161.25px;top:779.95px;width:229.25px;height:20.5px;line-height:20.5px;font-size:20.5px;color:#141414;"><span style="transform:scaleX(0.86);-webkit-text-stroke:0.15px #141414;">2,600</span></div>
<div class="t" style="left:270.50px;top:779.95px;width:228.25px;height:20.5px;line-height:20.5px;font-size:20.5px;color:#141414;"><span style="transform:scaleX(0.86);-webkit-text-stroke:0.15px #141414;">2,780</span></div>
<div class="t" style="left:378.75px;top:779.95px;width:228.75px;height:20.5px;line-height:20.5px;font-size:20.5px;color:#141414;"><span style="transform:scaleX(0.86);-webkit-text-stroke:0.15px #141414;">2,885</span></div>
<div class="t" style="left:487.50px;top:779.95px;width:228.25px;height:20.5px;line-height:20.5px;font-size:20.5px;color:#141414;"><span style="transform:scaleX(0.86);-webkit-text-stroke:0.15px #141414;">3,485</span></div>
<div class="t" style="left:595.75px;top:779.95px;width:229.25px;height:20.5px;line-height:20.5px;font-size:20.5px;color:#141414;"><span style="transform:scaleX(0.86);-webkit-text-stroke:0.15px #141414;">3,900</span></div>
<div class="t" style="left:-56.00px;top:809.95px;width:228.50px;height:20.5px;line-height:20.5px;font-size:20.5px;color:#141414;"><span style="transform:scaleX(0.86);-webkit-text-stroke:0.15px #141414;">18</span></div>
<div class="t" style="left:52.50px;top:809.95px;width:228.75px;height:20.5px;line-height:20.5px;font-size:20.5px;color:#141414;"><span style="transform:scaleX(0.86);-webkit-text-stroke:0.15px #141414;">2,575</span></div>
<div class="t" style="left:161.25px;top:809.95px;width:229.25px;height:20.5px;line-height:20.5px;font-size:20.5px;color:#141414;"><span style="transform:scaleX(0.86);-webkit-text-stroke:0.15px #141414;">2,830</span></div>
<div class="t" style="left:270.50px;top:809.95px;width:228.25px;height:20.5px;line-height:20.5px;font-size:20.5px;color:#141414;"><span style="transform:scaleX(0.86);-webkit-text-stroke:0.15px #141414;">3,030</span></div>
<div class="t" style="left:378.75px;top:809.95px;width:228.75px;height:20.5px;line-height:20.5px;font-size:20.5px;color:#141414;"><span style="transform:scaleX(0.86);-webkit-text-stroke:0.15px #141414;">3,140</span></div>
<div class="t" style="left:487.50px;top:809.95px;width:228.25px;height:20.5px;line-height:20.5px;font-size:20.5px;color:#141414;"><span style="transform:scaleX(0.86);-webkit-text-stroke:0.15px #141414;">3,790</span></div>
<div class="t" style="left:595.75px;top:809.95px;width:229.25px;height:20.5px;line-height:20.5px;font-size:20.5px;color:#141414;"><span style="transform:scaleX(0.86);-webkit-text-stroke:0.15px #141414;">4,245</span></div>
<div class="t" style="left:-56.00px;top:839.45px;width:228.50px;height:20.5px;line-height:20.5px;font-size:20.5px;color:#141414;"><span style="transform:scaleX(0.86);-webkit-text-stroke:0.15px #141414;">20</span></div>
<div class="t" style="left:52.50px;top:839.45px;width:228.75px;height:20.5px;line-height:20.5px;font-size:20.5px;color:#141414;"><span style="transform:scaleX(0.86);-webkit-text-stroke:0.15px #141414;">2,730</span></div>
<div class="t" style="left:161.25px;top:839.45px;width:229.25px;height:20.5px;line-height:20.5px;font-size:20.5px;color:#141414;"><span style="transform:scaleX(0.86);-webkit-text-stroke:0.15px #141414;">3,000</span></div>
<div class="t" style="left:270.50px;top:839.45px;width:228.25px;height:20.5px;line-height:20.5px;font-size:20.5px;color:#141414;"><span style="transform:scaleX(0.86);-webkit-text-stroke:0.15px #141414;">3,210</span></div>
<div class="t" style="left:378.75px;top:839.45px;width:228.75px;height:20.5px;line-height:20.5px;font-size:20.5px;color:#141414;"><span style="transform:scaleX(0.86);-webkit-text-stroke:0.15px #141414;">3,330</span></div>
<div class="t" style="left:487.50px;top:839.45px;width:228.25px;height:20.5px;line-height:20.5px;font-size:20.5px;color:#141414;"><span style="transform:scaleX(0.86);-webkit-text-stroke:0.15px #141414;">4,020</span></div>
<div class="t" style="left:595.75px;top:839.45px;width:229.25px;height:20.5px;line-height:20.5px;font-size:20.5px;color:#141414;"><span style="transform:scaleX(0.86);-webkit-text-stroke:0.15px #141414;">4,500</span></div>
<div class="t" style="left:-56.00px;top:868.45px;width:228.50px;height:20.5px;line-height:20.5px;font-size:20.5px;color:#141414;"><span style="transform:scaleX(0.86);-webkit-text-stroke:0.15px #141414;">22</span></div>
<div class="t" style="left:52.50px;top:868.45px;width:228.75px;height:20.5px;line-height:20.5px;font-size:20.5px;color:#141414;"><span style="transform:scaleX(0.86);-webkit-text-stroke:0.15px #141414;">2,910</span></div>
<div class="t" style="left:161.25px;top:868.45px;width:229.25px;height:20.5px;line-height:20.5px;font-size:20.5px;color:#141414;"><span style="transform:scaleX(0.86);-webkit-text-stroke:0.15px #141414;">3,200</span></div>
<div class="t" style="left:270.50px;top:868.45px;width:228.25px;height:20.5px;line-height:20.5px;font-size:20.5px;color:#141414;"><span style="transform:scaleX(0.86);-webkit-text-stroke:0.15px #141414;">3,425</span></div>
<div class="t" style="left:378.75px;top:868.45px;width:228.75px;height:20.5px;line-height:20.5px;font-size:20.5px;color:#141414;"><span style="transform:scaleX(0.86);-webkit-text-stroke:0.15px #141414;">3,550</span></div>
<div class="t" style="left:487.50px;top:868.45px;width:228.25px;height:20.5px;line-height:20.5px;font-size:20.5px;color:#141414;"><span style="transform:scaleX(0.86);-webkit-text-stroke:0.15px #141414;">4,290</span></div>
<div class="t" style="left:595.75px;top:868.45px;width:229.25px;height:20.5px;line-height:20.5px;font-size:20.5px;color:#141414;"><span style="transform:scaleX(0.86);-webkit-text-stroke:0.15px #141414;">4,800</span></div>
<div class="t" style="left:-56.00px;top:897.95px;width:228.50px;height:20.5px;line-height:20.5px;font-size:20.5px;color:#141414;"><span style="transform:scaleX(0.86);-webkit-text-stroke:0.15px #141414;">24</span></div>
<div class="t" style="left:52.50px;top:897.95px;width:228.75px;height:20.5px;line-height:20.5px;font-size:20.5px;color:#141414;"><span style="transform:scaleX(0.86);-webkit-text-stroke:0.15px #141414;">3,005</span></div>
<div class="t" style="left:161.25px;top:897.95px;width:229.25px;height:20.5px;line-height:20.5px;font-size:20.5px;color:#141414;"><span style="transform:scaleX(0.86);-webkit-text-stroke:0.15px #141414;">3,300</span></div>
<div class="t" style="left:270.50px;top:897.95px;width:228.25px;height:20.5px;line-height:20.5px;font-size:20.5px;color:#141414;"><span style="transform:scaleX(0.86);-webkit-text-stroke:0.15px #141414;">3,530</span></div>
<div class="t" style="left:378.75px;top:897.95px;width:228.75px;height:20.5px;line-height:20.5px;font-size:20.5px;color:#141414;"><span style="transform:scaleX(0.86);-webkit-text-stroke:0.15px #141414;">3,665</span></div>
<div class="t" style="left:487.50px;top:897.95px;width:228.25px;height:20.5px;line-height:20.5px;font-size:20.5px;color:#141414;"><span style="transform:scaleX(0.86);-webkit-text-stroke:0.15px #141414;">4,420</span></div>
<div class="t" style="left:595.75px;top:897.95px;width:229.25px;height:20.5px;line-height:20.5px;font-size:20.5px;color:#141414;"><span style="transform:scaleX(0.86);-webkit-text-stroke:0.15px #141414;">4,950</span></div>
<div class="t" style="left:-56.00px;top:926.95px;width:228.50px;height:20.5px;line-height:20.5px;font-size:20.5px;color:#141414;"><span style="transform:scaleX(0.86);-webkit-text-stroke:0.15px #141414;">26</span></div>
<div class="t" style="left:52.50px;top:926.95px;width:228.75px;height:20.5px;line-height:20.5px;font-size:20.5px;color:#141414;"><span style="transform:scaleX(0.86);-webkit-text-stroke:0.15px #141414;">3,205</span></div>
<div class="t" style="left:161.25px;top:926.95px;width:229.25px;height:20.5px;line-height:20.5px;font-size:20.5px;color:#141414;"><span style="transform:scaleX(0.86);-webkit-text-stroke:0.15px #141414;">3,520</span></div>
<div class="t" style="left:270.50px;top:926.95px;width:228.25px;height:20.5px;line-height:20.5px;font-size:20.5px;color:#141414;"><span style="transform:scaleX(0.86);-webkit-text-stroke:0.15px #141414;">3,765</span></div>
<div class="t" style="left:378.75px;top:926.95px;width:228.75px;height:20.5px;line-height:20.5px;font-size:20.5px;color:#141414;"><span style="transform:scaleX(0.86);-webkit-text-stroke:0.15px #141414;">3,905</span></div>
<div class="t" style="left:487.50px;top:926.95px;width:228.25px;height:20.5px;line-height:20.5px;font-size:20.5px;color:#141414;"><span style="transform:scaleX(0.86);-webkit-text-stroke:0.15px #141414;">4,715</span></div>
<div class="t" style="left:595.75px;top:926.95px;width:229.25px;height:20.5px;line-height:20.5px;font-size:20.5px;color:#141414;"><span style="transform:scaleX(0.86);-webkit-text-stroke:0.15px #141414;">5,280</span></div>
<div style="left:829px;top:655px;width:327px;height:60px;background:#e4e4f2;"></div>
<div style="left:829px;top:745px;width:327px;height:29px;background:#d8dce1;"></div>
<div style="left:829px;top:804px;width:327px;height:30px;background:#d8dce1;"></div>
<div style="left:829px;top:863px;width:327px;height:29px;background:#d8dce1;"></div>
<div style="left:829px;top:922px;width:327px;height:28px;background:#d8dce1;"></div>
<div style="left:938px;top:681.5px;width:1px;height:268.5px;background:#b3b7c1;"></div>
<div style="left:1046px;top:681.5px;width:1px;height:268.5px;background:#b3b7c1;"></div>
<div style="left:829px;top:950px;width:327px;height:3px;background:#4d6399;"></div>
<div class="t" style="left:769.00px;top:684.23px;width:229.50px;height:14.5px;line-height:14.5px;font-size:14.5px;color:#141414;"><span style="transform:scaleX(0.89);-webkit-text-stroke:0.3px #141414;">Inflation Pressure</span></div>
<div class="t" style="left:769.00px;top:698.73px;width:229.50px;height:14.5px;line-height:14.5px;font-size:14.5px;color:#141414;"><span style="transform:scaleX(0.89);-webkit-text-stroke:0.3px #141414;">(psi)</span></div>
<div class="t" style="left:878.50px;top:684.23px;width:228.25px;height:14.5px;line-height:14.5px;font-size:14.5px;color:#141414;"><span style="transform:scaleX(0.89);-webkit-text-stroke:0.3px #141414;">10 mph</span></div>
<div class="t" style="left:878.50px;top:698.73px;width:228.25px;height:14.5px;line-height:14.5px;font-size:14.5px;color:#141414;"><span style="transform:scaleX(0.89);-webkit-text-stroke:0.3px #141414;">(lbs)</span></div>
<div class="t" style="left:986.75px;top:684.23px;width:229.25px;height:14.5px;line-height:14.5px;font-size:14.5px;color:#141414;"><span style="transform:scaleX(0.89);-webkit-text-stroke:0.3px #141414;">6 mph</span></div>
<div class="t" style="left:986.75px;top:698.73px;width:229.25px;height:14.5px;line-height:14.5px;font-size:14.5px;color:#141414;"><span style="transform:scaleX(0.89);-webkit-text-stroke:0.3px #141414;">(lbs)</span></div>
<div class="t" style="left:769.00px;top:720.95px;width:229.50px;height:20.5px;line-height:20.5px;font-size:20.5px;color:#141414;"><span style="transform:scaleX(0.86);-webkit-text-stroke:0.15px #141414;">16</span></div>
<div class="t" style="left:878.50px;top:720.95px;width:228.25px;height:20.5px;line-height:20.5px;font-size:20.5px;color:#141414;"><span style="transform:scaleX(0.86);-webkit-text-stroke:0.15px #141414;">3,290</span></div>
<div class="t" style="left:986.75px;top:720.95px;width:229.25px;height:20.5px;line-height:20.5px;font-size:20.5px;color:#141414;"><span style="transform:scaleX(0.86);-webkit-text-stroke:0.15px #141414;">3,620</span></div>
<div class="t" style="left:769.00px;top:750.45px;width:229.50px;height:20.5px;line-height:20.5px;font-size:20.5px;color:#141414;"><span style="transform:scaleX(0.86);-webkit-text-stroke:0.15px #141414;">18</span></div>
<div class="t" style="left:878.50px;top:750.45px;width:228.25px;height:20.5px;line-height:20.5px;font-size:20.5px;color:#141414;"><span style="transform:scaleX(0.86);-webkit-text-stroke:0.15px #141414;">4,080</span></div>
<div class="t" style="left:986.75px;top:750.45px;width:229.25px;height:20.5px;line-height:20.5px;font-size:20.5px;color:#141414;"><span style="transform:scaleX(0.86);-webkit-text-stroke:0.15px #141414;">4,490</span></div>
<div class="t" style="left:769.00px;top:779.95px;width:229.50px;height:20.5px;line-height:20.5px;font-size:20.5px;color:#141414;"><span style="transform:scaleX(0.86);-webkit-text-stroke:0.15px #141414;">20</span></div>
<div class="t" style="left:878.50px;top:779.95px;width:228.25px;height:20.5px;line-height:20.5px;font-size:20.5px;color:#141414;"><span style="transform:scaleX(0.86);-webkit-text-stroke:0.15px #141414;">4,420</span></div>
<div class="t" style="left:986.75px;top:779.95px;width:229.25px;height:20.5px;line-height:20.5px;font-size:20.5px;color:#141414;"><span style="transform:scaleX(0.86);-webkit-text-stroke:0.15px #141414;">4,860</span></div>
<div class="t" style="left:769.00px;top:809.95px;width:229.50px;height:20.5px;line-height:20.5px;font-size:20.5px;color:#141414;"><span style="transform:scaleX(0.86);-webkit-text-stroke:0.15px #141414;">24</span></div>
<div class="t" style="left:878.50px;top:809.95px;width:228.25px;height:20.5px;line-height:20.5px;font-size:20.5px;color:#141414;"><span style="transform:scaleX(0.86);-webkit-text-stroke:0.15px #141414;">4,810</span></div>
<div class="t" style="left:986.75px;top:809.95px;width:229.25px;height:20.5px;line-height:20.5px;font-size:20.5px;color:#141414;"><span style="transform:scaleX(0.86);-webkit-text-stroke:0.15px #141414;">5,290</span></div>
<div class="t" style="left:769.00px;top:839.45px;width:229.50px;height:20.5px;line-height:20.5px;font-size:20.5px;color:#141414;"><span style="transform:scaleX(0.86);-webkit-text-stroke:0.15px #141414;">26</span></div>
<div class="t" style="left:878.50px;top:839.45px;width:228.25px;height:20.5px;line-height:20.5px;font-size:20.5px;color:#141414;"><span style="transform:scaleX(0.86);-webkit-text-stroke:0.15px #141414;">5,100</span></div>
<div class="t" style="left:986.75px;top:839.45px;width:229.25px;height:20.5px;line-height:20.5px;font-size:20.5px;color:#141414;"><span style="transform:scaleX(0.86);-webkit-text-stroke:0.15px #141414;">5,610</span></div>
<div class="t" style="left:769.00px;top:868.45px;width:229.50px;height:20.5px;line-height:20.5px;font-size:20.5px;color:#141414;"><span style="transform:scaleX(0.86);-webkit-text-stroke:0.15px #141414;">28</span></div>
<div class="t" style="left:878.50px;top:868.45px;width:228.25px;height:20.5px;line-height:20.5px;font-size:20.5px;color:#141414;"><span style="transform:scaleX(0.86);-webkit-text-stroke:0.15px #141414;">5,440</span></div>
<div class="t" style="left:986.75px;top:868.45px;width:229.25px;height:20.5px;line-height:20.5px;font-size:20.5px;color:#141414;"><span style="transform:scaleX(0.86);-webkit-text-stroke:0.15px #141414;">5,985</span></div>
<div class="t" style="left:769.00px;top:897.95px;width:229.50px;height:20.5px;line-height:20.5px;font-size:20.5px;color:#141414;"><span style="transform:scaleX(0.86);-webkit-text-stroke:0.15px #141414;">32</span></div>
<div class="t" style="left:878.50px;top:897.95px;width:228.25px;height:20.5px;line-height:20.5px;font-size:20.5px;color:#141414;"><span style="transform:scaleX(0.86);-webkit-text-stroke:0.15px #141414;">5,610</span></div>
<div class="t" style="left:986.75px;top:897.95px;width:229.25px;height:20.5px;line-height:20.5px;font-size:20.5px;color:#141414;"><span style="transform:scaleX(0.86);-webkit-text-stroke:0.15px #141414;">6,170</span></div>
<div class="t" style="left:769.00px;top:926.95px;width:229.50px;height:20.5px;line-height:20.5px;font-size:20.5px;color:#141414;"><span style="transform:scaleX(0.86);-webkit-text-stroke:0.15px #141414;">34</span></div>
<div class="t" style="left:878.50px;top:926.95px;width:228.25px;height:20.5px;line-height:20.5px;font-size:20.5px;color:#141414;"><span style="transform:scaleX(0.86);-webkit-text-stroke:0.15px #141414;">5,985</span></div>
<div class="t" style="left:986.75px;top:926.95px;width:229.25px;height:20.5px;line-height:20.5px;font-size:20.5px;color:#141414;"><span style="transform:scaleX(0.86);-webkit-text-stroke:0.15px #141414;">6,580</span></div>
<div style="left:829px;top:681px;width:327px;height:1px;background:#c9cbd6;"></div>
<div class="t" style="left:769.00px;top:660.80px;width:447.00px;height:15px;line-height:15px;font-size:15px;color:#141414;"><span style="transform:scaleX(0.83);-webkit-text-stroke:0.3px #141414;">Cyclic Service</span></div>
</body></html>
